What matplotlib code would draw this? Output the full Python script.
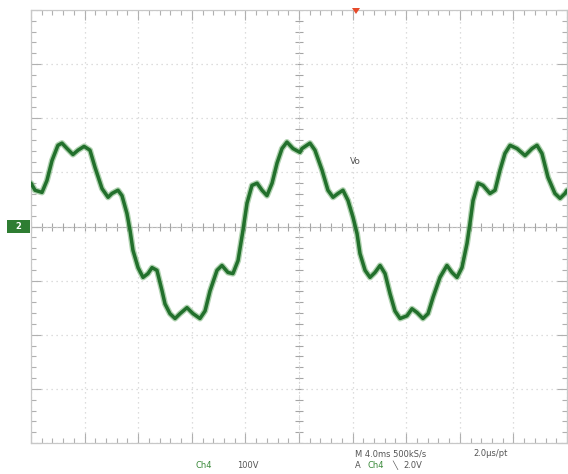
import numpy as np
import matplotlib
matplotlib.use("Agg")
import matplotlib.pyplot as plt
from matplotlib.patches import Rectangle, Polygon

# ---- data (time in ms, voltage in V) ----
time_ms = [0.00, 0.30, 0.82, 1.19, 1.57, 2.01, 2.31, 2.69, 3.13, 3.51, 3.96, 4.40,
           4.78, 5.30, 5.75, 6.04, 6.49, 6.79, 7.16, 7.39, 7.61, 7.99, 8.36, 8.73,
           9.03, 9.40, 9.78, 10.00, 10.37, 10.75, 11.12, 11.64, 12.09, 12.61, 12.99,
           13.36, 13.88, 14.25, 14.70, 15.07, 15.45, 15.82, 16.12, 16.49, 16.87,
           17.24, 17.61, 17.99, 18.36, 18.73, 19.10, 19.55, 20.07, 20.22, 20.82,
           21.19, 21.72, 22.16, 22.54, 22.91, 23.28, 23.66, 24.03, 24.33, 24.55,
           24.93, 25.30, 25.67, 26.05, 26.42, 26.79, 27.16, 27.54, 28.06, 28.43,
           28.81, 29.25, 29.63, 30.00, 30.52, 31.04, 31.42, 31.79, 32.16, 32.54,
           32.76, 32.99, 33.36, 33.73, 34.25, 34.63, 35.00, 35.37, 35.75, 36.27,
           36.87, 37.39, 37.76, 38.13, 38.58, 39.10, 39.48, 39.85, 40.00]
volts = [80, 67, 63, 85, 122, 150, 154, 144, 133, 141, 148, 141,
         109, 70, 54, 61, 67, 57, 24, -7, -44, -76, -94, -87,
         -76, -81, -119, -143, -161, -170, -161, -150, -161, -170, -156,
         -119, -81, -72, -85, -87, -63, -7, 43, 76, 80,
         67, 57, 80, 117, 144, 156, 144, 137, 144, 154,
         141, 104, 67, 54, 61, 67, 48, 17, -13, -50,
         -81, -94, -85, -72, -87, -124, -156, -170, -165, -152,
         -159, -170, -161, -131, -94, -72, -85, -94, -76, -31,
         6, 48, 80, 76, 61, 67, 104, 135, 150, 144,
         131, 144, 150, 135, 91, 61, 52, 61, 67]

time_per_div = 4.0     # M 4.0ms
volts_per_div = 100.0  # Ch4 100V
n_xdiv, n_ydiv = 10, 8

W, H = 568, 474
fig = plt.figure(figsize=(W / 100, H / 100), dpi=100)
fig.patch.set_facecolor("white")
left_px, right_px, top_px, bot_px = 31, 567, 10, 443
ax = fig.add_axes([left_px / W, 1 - bot_px / H, (right_px - left_px) / W, (bot_px - top_px) / H])
ax.set_xlim(0, n_xdiv * time_per_div)
ax.set_ylim(-n_ydiv / 2 * volts_per_div, n_ydiv / 2 * volts_per_div)

grid_c = "#d2d2d2"
for s in ax.spines.values():
    s.set_color("#c8c8c8")
    s.set_linewidth(0.9)

xmaj = np.arange(0, n_xdiv + 1) * time_per_div
ymaj = (np.arange(0, n_ydiv + 1) - n_ydiv / 2) * volts_per_div
xmin = np.arange(0, n_xdiv * 5 + 1) * time_per_div / 5
ymin = (np.arange(0, n_ydiv * 5 + 1) / 5 - n_ydiv / 2) * volts_per_div
ax.set_xticks(xmaj)
ax.set_yticks(ymaj)
ax.set_xticks(xmin, minor=True)
ax.set_yticks(ymin, minor=True)
ax.tick_params(which="both", direction="in", top=True, right=True,
               labelbottom=False, labelleft=False, color="#b0b0b0", width=0.8)
ax.tick_params(which="major", length=7)
ax.tick_params(which="minor", length=3.5)
ax.grid(True, which="major", color=grid_c, linestyle=(0, (1, 3)), linewidth=0.9)

# centre cross-hair with small ticks
xc = n_xdiv / 2 * time_per_div
ax.axhline(0, color="#b5b5b5", lw=0.8, zorder=1)
ax.axvline(xc, color="#d0d0d0", lw=0.6, ls=(0, (2, 2)), zorder=1)
ax.plot(xmin, np.zeros_like(xmin), ls="none", marker="|", ms=6, color="#a5a5a5", mew=0.8, zorder=1)
ax.plot(np.full_like(ymin, xc), ymin, ls="none", marker="_", ms=6, color="#a5a5a5", mew=0.8, zorder=1)

# trace
ax.plot(time_ms, volts, color="#6fae6f", lw=4.4, alpha=0.55,
        solid_capstyle="round", solid_joinstyle="round", zorder=3)
ax.plot(time_ms, volts, color="#22702c", lw=2.5,
        solid_capstyle="round", solid_joinstyle="round", zorder=4)

fig.text(350 / W, 1 - 162 / H, "Vo", fontsize=6.5, color="#555555", va="center", ha="left")

# channel ground marker
fig.patches.append(Rectangle((7 / W, 1 - 233 / H), 23 / W, 13 / H, transform=fig.transFigure,
                             facecolor="#2e7d32", edgecolor="none"))
fig.text(18 / W, 1 - 226.5 / H, "2", fontsize=6, color="white", ha="center", va="center", weight="bold")

# trigger marker
fig.patches.append(Polygon([(352 / W, 1 - 8 / H), (360 / W, 1 - 8 / H), (356 / W, 1 - 14 / H)],
                           closed=True, transform=fig.transFigure, facecolor="#e64a2a", edgecolor="none"))

# bottom readouts
tc = "#555555"
fs = 6
fig.text(195 / W, 1 - 465 / H, "Ch4", fontsize=fs, color="#3a8a3a", va="center")
fig.text(237 / W, 1 - 465 / H, "100V", fontsize=fs, color=tc, va="center")
fig.text(355 / W, 1 - 454 / H, "M 4.0ms 500kS/s", fontsize=fs, color=tc, va="center")
fig.text(473 / W, 1 - 454 / H, "2.0\u00b5s/pt", fontsize=fs, color=tc, va="center")
fig.text(355 / W, 1 - 465 / H, "A", fontsize=fs, color=tc, va="center")
fig.text(368 / W, 1 - 465 / H, "Ch4", fontsize=fs, color="#3a8a3a", va="center")
fig.text(392 / W, 1 - 465 / H, "\u2572", fontsize=fs, color=tc, va="center")
fig.text(403 / W, 1 - 465 / H, "2.0V", fontsize=fs, color=tc, va="center")

fig.savefig("out.png", dpi=100, facecolor="white")
